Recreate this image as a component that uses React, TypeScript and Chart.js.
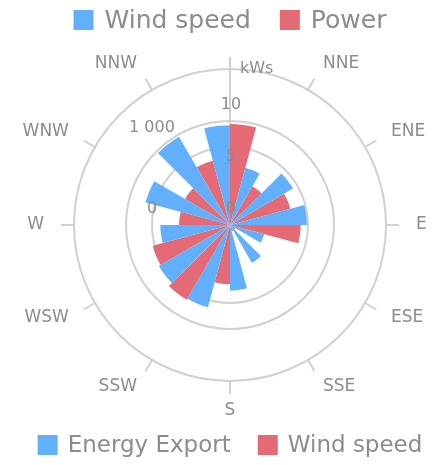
import React, { useEffect, useRef } from 'react';
import { Chart, registerables } from 'chart.js';

Chart.register(...registerables);

// ---- data ----
const categories = ['N', 'NNE', 'ENE', 'E', 'ESE', 'SSE', 'S', 'SSW', 'WSW', 'W', 'WNW', 'NNW'];
const windSpeedValues = [9.6, 5.7, 7.0, 7.4, 3.4, 4.2, 6.3, 8.2, 7.9, 6.7, 8.4, 9.8];
const powerValues = [9.7, 4.3, 6.0, 6.8, 0.6, 0.6, 5.7, 8.3, 7.7, 4.9, 5.0, 6.4];
const kwsTicks = [0, 5, 10];
const energyTicks = [0, 1000];
const gridValues = [0, 7.5, 10, 15];
const axisTitle = 'kWs';
const topLegendNames = ['Wind speed', 'Power'];
const bottomLegendNames = ['Energy Export', 'Wind speed'];

// ---- styles ----
const FONT = '"DejaVu Sans", sans-serif';
const TEXT = '#8c8c8c';
const GRID = '#d0d0d0';
const BLUE = '#62b0fc';
const RED = '#e46a76';
const R_MAX = 15;
const ENERGY_TO_KWS = 7.8 / 1000;
const ENERGY_AXIS_AT = 7.5;

// each category holds two 15° sectors: blue just before the direction, red just after
const slotCount = categories.length * 2;
const slotLabels = Array.from({ length: slotCount }, (_, i) => (i % 2 === 0 ? categories[i / 2] : ''));
const blueSlots = new Array(slotCount).fill(0);
const redSlots = new Array(slotCount).fill(0);
categories.forEach((_, k) => {
  blueSlots[(2 * k - 1 + slotCount) % slotCount] = windSpeedValues[k];
  redSlots[2 * k] = powerValues[k];
});

function drawLegend(ctx: CanvasRenderingContext2D, names: string[], colors: string[], size: number, y: number, cx: number) {
  ctx.save();
  ctx.font = `${size}px ${FONT}`;
  const box = 20;
  const gap = Math.round(size * 0.44);
  const itemGap = Math.round(size * 1.17);
  const widths = names.map((n) => ctx.measureText(n).width);
  const total = widths.reduce((a, w) => a + box + gap + w, 0) + itemGap * (names.length - 1);
  let x = cx - total / 2;
  names.forEach((n, i) => {
    ctx.fillStyle = colors[i];
    ctx.fillRect(x, y, box, box);
    x += box + gap;
    ctx.fillStyle = TEXT;
    ctx.textAlign = 'left';
    ctx.textBaseline = 'middle';
    ctx.fillText(n, x, y + box / 2 + 1);
    x += widths[i] + itemGap;
  });
  ctx.restore();
}

const decorPlugin = {
  id: 'windroseDecor',
  beforeDatasetsDraw(chart: any) {
    const s = chart.scales.r;
    const ctx: CanvasRenderingContext2D = chart.ctx;
    const D = s.drawingArea;
    ctx.save();
    ctx.strokeStyle = GRID;
    ctx.lineWidth = 2;
    const top = s.getPointPosition(0, D + 12);
    ctx.beginPath();
    ctx.moveTo(s.xCenter, s.yCenter);
    ctx.lineTo(top.x, top.y);
    ctx.stroke();
    categories.forEach((_, k) => {
      if (k === 0) return;
      const a = s.getPointPosition(2 * k, D);
      const b = s.getPointPosition(2 * k, D + 13);
      ctx.beginPath();
      ctx.moveTo(a.x, a.y);
      ctx.lineTo(b.x, b.y);
      ctx.stroke();
    });
    ctx.restore();
  },
  afterDatasetsDraw(chart: any) {
    const s = chart.scales.r;
    const ctx: CanvasRenderingContext2D = chart.ctx;
    const D = s.drawingArea;
    ctx.save();
    ctx.fillStyle = TEXT;
    // direction labels
    ctx.font = `17px ${FONT}`;
    ctx.textBaseline = 'middle';
    categories.forEach((c, k) => {
      if (k === 0) return;
      const angle = k * (360 / categories.length);
      const p = s.getPointPosition(2 * k, D + 30);
      ctx.textAlign = angle === 180 ? 'center' : angle < 180 ? 'left' : 'right';
      ctx.fillText(c, p.x, p.y);
    });
    // kWs axis labels
    ctx.font = `16px ${FONT}`;
    ctx.textAlign = 'center';
    kwsTicks.forEach((v) => {
      const d = s.getDistanceFromCenterForValue(v);
      ctx.fillText(String(v), s.xCenter + 1, s.yCenter - d - 16);
    });
    ctx.textAlign = 'left';
    ctx.fillText(axisTitle, s.xCenter + 10, s.yCenter - D);
    // energy axis labels
    ctx.textAlign = 'center';
    const ex = s.xCenter - s.getDistanceFromCenterForValue(ENERGY_AXIS_AT);
    energyTicks.forEach((e) => {
      const d = s.getDistanceFromCenterForValue(e * ENERGY_TO_KWS);
      const txt = e.toLocaleString('en-US').replace(/,/g, ' ');
      ctx.fillText(txt, ex, s.yCenter - d - 16);
    });
    ctx.restore();
  },
  afterDraw(chart: any) {
    const s = chart.scales.r;
    const ctx: CanvasRenderingContext2D = chart.ctx;
    drawLegend(ctx, topLegendNames, [BLUE, RED], 25, 10, s.xCenter);
    drawLegend(ctx, bottomLegendNames, [BLUE, RED], 23, chart.height - 30, s.xCenter);
  },
};

export default function App() {
  const ref = useRef<HTMLCanvasElement>(null);
  useEffect(() => {
    document.body.style.margin = '0';
    document.body.style.background = '#ffffff';
    const chart = new Chart(ref.current as HTMLCanvasElement, {
      type: 'polarArea',
      data: {
        labels: slotLabels,
        datasets: [
          { label: topLegendNames[0], data: blueSlots, backgroundColor: BLUE, borderWidth: 0 },
          { label: topLegendNames[1], data: redSlots, backgroundColor: RED, borderWidth: 0 },
        ],
      },
      options: {
        animation: false,
        responsive: true,
        maintainAspectRatio: false,
        events: [],
        layout: { padding: { left: 74, right: 46, top: 69, bottom: 84 } },
        plugins: { legend: { display: false }, tooltip: { enabled: false } },
        scales: {
          r: {
            min: 0,
            max: R_MAX,
            startAngle: 0,
            angleLines: { display: false },
            pointLabels: { display: false },
            ticks: { display: false },
            grid: { circular: true, color: GRID, lineWidth: 2 },
            afterBuildTicks: (scale: any) => {
              scale.ticks = gridValues.map((v) => ({ value: v }));
            },
          },
        },
      },
      plugins: [decorPlugin],
    });
    return () => chart.destroy();
  }, []);
  return (
    <div style={{ width: 432, height: 465, position: 'relative' }}>
      <canvas ref={ref} />
    </div>
  );
}
